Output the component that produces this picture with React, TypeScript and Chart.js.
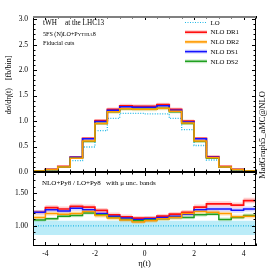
import React, { useEffect, useRef } from "react";
import { Chart, registerables } from "chart.js";
Chart.register(...registerables);

const FONT = "'Liberation Serif', 'DejaVu Serif', serif";

// bin edges in eta(t)
const BIN_EDGES = [-4.5, -4, -3.5, -3, -2.5, -2, -1.5, -1, -0.5, 0, 0.5, 1, 1.5, 2, 2.5, 3, 3.5, 4, 4.5];

// upper panel: dsigma/deta [fb/bin]
const LO = [0.017, 0.04, 0.09, 0.225, 0.49, 0.81, 1.05, 1.15, 1.15, 1.14, 1.14, 1.05, 0.83, 0.52, 0.235, 0.09, 0.04, 0.016];
const NLO_DR1 = [0.02, 0.05, 0.11, 0.29, 0.66, 1.01, 1.23, 1.30, 1.29, 1.29, 1.32, 1.23, 1.0, 0.66, 0.30, 0.11, 0.05, 0.02];
const NLO_DR2 = [0.02, 0.05, 0.10, 0.27, 0.61, 0.95, 1.18, 1.24, 1.23, 1.23, 1.25, 1.19, 0.96, 0.61, 0.28, 0.10, 0.05, 0.02];
const NLO_DS1 = [0.02, 0.05, 0.10, 0.29, 0.65, 0.99, 1.21, 1.28, 1.27, 1.27, 1.30, 1.21, 0.98, 0.65, 0.29, 0.10, 0.05, 0.02];
const NLO_DS2 = [0.02, 0.045, 0.10, 0.27, 0.60, 0.95, 1.18, 1.24, 1.23, 1.23, 1.25, 1.18, 0.95, 0.60, 0.27, 0.10, 0.045, 0.02];

// lower panel: NLO+Py8 / LO+Py8
const RATIO_DR1 = [1.21, 1.28, 1.26, 1.30, 1.29, 1.24, 1.17, 1.14, 1.12, 1.12, 1.15, 1.18, 1.21, 1.29, 1.34, 1.34, 1.32, 1.39];
const RATIO_DS1 = [1.21, 1.25, 1.23, 1.27, 1.25, 1.19, 1.15, 1.12, 1.10, 1.11, 1.13, 1.15, 1.18, 1.25, 1.26, 1.26, 1.24, 1.26];
const RATIO_DR2 = [1.13, 1.19, 1.18, 1.19, 1.22, 1.16, 1.12, 1.09, 1.06, 1.08, 1.11, 1.13, 1.19, 1.22, 1.21, 1.19, 1.14, 1.15];
const RATIO_DS2 = [1.09, 1.11, 1.15, 1.16, 1.20, 1.17, 1.13, 1.10, 1.08, 1.09, 1.11, 1.13, 1.13, 1.17, 1.18, 1.10, 1.13, 1.16];
const RATIO_LO = [1, 1, 1, 1, 1, 1, 1, 1, 1, 1, 1, 1, 1, 1, 1, 1, 1, 1];
const RATIO_LO_UP = [1.08, 1.08, 1.08, 1.08, 1.08, 1.08, 1.08, 1.08, 1.08, 1.08, 1.08, 1.08, 1.08, 1.08, 1.08, 1.08, 1.08, 1.08];
const RATIO_LO_DN = [0.86, 0.86, 0.86, 0.86, 0.86, 0.86, 0.86, 0.86, 0.86, 0.86, 0.86, 0.86, 0.86, 0.86, 0.86, 0.86, 0.86, 0.86];

// relative scale uncertainties (band half widths)
const UNC_DR1 = 0.03;
const UNC_DR2 = 0.03;
const UNC_DS1 = 0.03;
const UNC_DS2 = 0.025;

const TOP_Y_TICKS = [0, 0.5, 1.0, 1.5, 2.0, 2.5, 3.0];
const RATIO_Y_TICKS = [1.0, 1.5];
const X_TICKS = [-4, -2, 0, 2, 4];

const LEGEND = ["LO", "NLO DR1", "NLO DR2", "NLO DS1", "NLO DS2"];
const COL = {
  lo: "#22b8e6",
  dr1: "#ff1010",
  dr2: "#ff9a00",
  ds1: "#1414ff",
  ds2: "#20a020",
};
const BAND = {
  lo: "rgba(60,200,235,0.35)",
  dr1: "rgba(255,40,40,0.22)",
  dr2: "rgba(255,160,0,0.22)",
  ds1: "rgba(40,40,255,0.18)",
  ds2: "rgba(40,170,40,0.18)",
};

const steps = (vals: number[]) =>
  BIN_EDGES.map((x, i) => ({ x, y: vals[Math.min(i, vals.length - 1)] }));

function lineSet(vals: number[], color: string, order: number, dash?: number[], width = 1.5) {
  return {
    data: steps(vals),
    borderColor: color,
    borderWidth: width,
    borderDash: dash || [],
    pointRadius: 0,
    fill: false,
    stepped: "before" as const,
    order,
  };
}
function bandSets(lo: number[], hi: number[], color: string, order: number) {
  return [
    { data: steps(lo), borderColor: "transparent", borderWidth: 0, pointRadius: 0, fill: false, stepped: "before" as const, order },
    { data: steps(hi), borderColor: "transparent", borderWidth: 0, pointRadius: 0, fill: "-1", backgroundColor: color, stepped: "before" as const, order },
  ];
}

const frameTicks = {
  id: "frameTicks",
  afterDraw(chart: any, _args: any, opts: any) {
    const { ctx, chartArea: a, scales } = chart;
    const xs = scales.x, ys = scales.y;
    ctx.save();
    ctx.strokeStyle = "#000";
    ctx.lineWidth = 1;
    const tick = (x1: number, y1: number, x2: number, y2: number) => {
      ctx.beginPath(); ctx.moveTo(x1, y1); ctx.lineTo(x2, y2); ctx.stroke();
    };
    for (let v = -4.5; v <= 4.5001; v += 0.5) {
      const major = Math.abs(v - Math.round(v / 2) * 2) < 1e-6;
      const L = major ? 4 : 2.5;
      const px = Math.round(xs.getPixelForValue(v)) + 0.5;
      tick(px, a.bottom, px, a.bottom - L);
      tick(px, a.top, px, a.top + L);
    }
    for (let v = opts.yStart; v <= ys.max + 1e-6; v += opts.yMinor) {
      if (v < ys.min - 1e-6) continue;
      const major = Math.abs(v / opts.yMajor - Math.round(v / opts.yMajor)) < 1e-6;
      const L = major ? 4 : 2.5;
      const py = Math.round(ys.getPixelForValue(v)) + 0.5;
      tick(a.left, py, a.left + L, py);
      tick(a.right, py, a.right - L, py);
    }
    ctx.beginPath();
    ctx.moveTo(a.left + 0.5, a.top); ctx.lineTo(a.left + 0.5, a.bottom);
    ctx.moveTo(a.right - 0.5, a.top); ctx.lineTo(a.right - 0.5, a.bottom);
    ctx.stroke();
    ctx.lineWidth = opts.topW;
    ctx.strokeStyle = opts.topC;
    ctx.beginPath(); ctx.moveTo(a.left, a.top + opts.topW / 2); ctx.lineTo(a.right, a.top + opts.topW / 2); ctx.stroke();
    ctx.lineWidth = opts.botW;
    ctx.strokeStyle = opts.botC;
    ctx.beginPath(); ctx.moveTo(a.left, a.bottom - opts.botW / 2); ctx.lineTo(a.right, a.bottom - opts.botW / 2); ctx.stroke();
    ctx.restore();
  },
};

const topText = {
  id: "topText",
  afterDraw(chart: any) {
    const ctx = chart.ctx;
    ctx.save();
    ctx.fillStyle = "#000";
    ctx.textAlign = "left";
    ctx.textBaseline = "alphabetic";
    ctx.font = `7.2px ${FONT}`;
    ctx.fillText("tWH", 43, 25);
    ctx.fillText("at the LHC13", 65, 25);
    let x = 43;
    const parts: [string, number][] = [["5FS (N)LO+P", 6.1], ["YTHIA", 4.8], ["8", 6.1]];
    for (const [t, s] of parts) {
      ctx.font = `${s}px ${FONT}`;
      ctx.fillText(t, x, 35.5);
      x += ctx.measureText(t).width;
    }
    ctx.font = `6.1px ${FONT}`;
    ctx.fillText("Fiducial cuts", 43, 45);
    const cols = [COL.lo, COL.dr1, COL.dr2, COL.ds1, COL.ds2];
    const bands = [null, BAND.dr1, BAND.dr2, BAND.ds1, BAND.ds2];
    ctx.font = `6.8px ${FONT}`;
    ctx.textBaseline = "middle";
    LEGEND.forEach((lab, i) => {
      const y = 22.5 + i * 9.7;
      if (bands[i]) {
        ctx.fillStyle = bands[i];
        ctx.fillRect(185, y - 2, 22, 4);
      }
      ctx.strokeStyle = cols[i];
      ctx.lineWidth = i === 0 ? 1.2 : 1.6;
      ctx.setLineDash(i === 0 ? [1, 1.5] : []);
      ctx.beginPath(); ctx.moveTo(185, y); ctx.lineTo(207, y); ctx.stroke();
      ctx.setLineDash([]);
      ctx.fillStyle = "#000";
      ctx.fillText(lab, 210.5, y + 0.5);
    });
    ctx.translate(8.5, 85);
    ctx.rotate(-Math.PI / 2);
    ctx.textAlign = "center";
    ctx.font = `8px ${FONT}`;
    ctx.fillText("d\u03c3/d\u03b7(t)    [fb/bin]", 0, 0);
    ctx.restore();
    ctx.save();
    ctx.translate(262.5, 135);
    ctx.rotate(-Math.PI / 2);
    ctx.textAlign = "center";
    ctx.textBaseline = "middle";
    ctx.fillStyle = "#000";
    ctx.font = `8.5px ${FONT}`;
    ctx.fillText("MadGraph5_aMC@NLO", 0, 0);
    ctx.restore();
  },
};

const botText = {
  id: "botText",
  afterDraw(chart: any) {
    const ctx = chart.ctx;
    ctx.save();
    ctx.fillStyle = "#000";
    ctx.textAlign = "left";
    ctx.textBaseline = "middle";
    ctx.font = `7px ${FONT}`;
    ctx.fillText("NLO+Py8 / LO+Py8   with \u03bc unc. bands", 42, 183.5);
    ctx.textAlign = "center";
    ctx.font = `8.5px ${FONT}`;
    ctx.fillText("\u03b7(t)", 144.5, 263.5);
    ctx.restore();
  },
};

const mul = (vals: number[], f: number) => vals.map((v) => v * f);
const add = (vals: number[], d: number[], s: number) => vals.map((v, i) => v + s * d[i]);

export default function App() {
  const topRef = useRef<HTMLCanvasElement>(null);
  const botRef = useRef<HTMLCanvasElement>(null);

  useEffect(() => {
    const tickFont = { family: FONT, size: 7.5 };
    const top = new Chart(topRef.current!, {
      type: "line",
      data: {
        datasets: [
          lineSet(NLO_DR2, COL.dr2, 1),
          lineSet(NLO_DS2, COL.ds2, 2),
          lineSet(NLO_DS1, COL.ds1, 3),
          lineSet(NLO_DR1, COL.dr1, 4, undefined, 1.7),
          lineSet(LO, COL.lo, 5, [1, 1.5], 1.3),
          ...bandSets(mul(NLO_DR1, 1 - UNC_DR1), mul(NLO_DR1, 1 + UNC_DR1), BAND.dr1, 10),
          ...bandSets(mul(NLO_DS1, 1 - UNC_DS1), mul(NLO_DS1, 1 + UNC_DS1), BAND.ds1, 11),
          ...bandSets(mul(NLO_DR2, 1 - UNC_DR2), mul(NLO_DR2, 1 + UNC_DR2), BAND.dr2, 12),
          ...bandSets(mul(NLO_DS2, 1 - UNC_DS2), mul(NLO_DS2, 1 + UNC_DS2), BAND.ds2, 13),
        ] as any,
      },
      options: {
        responsive: false,
        animation: false,
        devicePixelRatio: 1,
        layout: { padding: { top: 16, bottom: 98, left: 0, right: 14 } },
        plugins: {
          legend: { display: false },
          tooltip: { enabled: false },
          frameTicks: { yStart: 0, yMinor: 0.1, yMajor: 0.5, topW: 2, topC: "#808080", botW: 1, botC: "#000" },
        } as any,
        scales: {
          x: { type: "linear", min: -4.5, max: 4.5, display: false },
          y: {
            min: 0,
            max: 3.06,
            grid: { display: false, drawTicks: false },
            border: { display: false },
            afterBuildTicks: (s: any) => { s.ticks = TOP_Y_TICKS.map((value) => ({ value })); },
            afterFit: (s: any) => { s.width = 33; },
            ticks: { font: tickFont, color: "#000", padding: 5, callback: (v: any) => Number(v).toFixed(1) },
          },
        },
      },
      plugins: [frameTicks, topText],
    });

    const ratioBand = (vals: number[], u: number) => vals.map((v) => v * u);
    const bot = new Chart(botRef.current!, {
      type: "line",
      data: {
        datasets: [
          lineSet(RATIO_DR2, COL.dr2, 1),
          lineSet(RATIO_DS2, COL.ds2, 2),
          lineSet(RATIO_DS1, COL.ds1, 3),
          lineSet(RATIO_DR1, COL.dr1, 4, undefined, 1.7),
          lineSet(RATIO_LO, COL.lo, 5, [1, 1.5], 1.3),
          ...bandSets(add(RATIO_DR1, ratioBand(RATIO_DR1, UNC_DR1), -1), add(RATIO_DR1, ratioBand(RATIO_DR1, UNC_DR1), 1), BAND.dr1, 10),
          ...bandSets(add(RATIO_DS1, ratioBand(RATIO_DS1, UNC_DS1), -1), add(RATIO_DS1, ratioBand(RATIO_DS1, UNC_DS1), 1), BAND.ds1, 11),
          ...bandSets(add(RATIO_DR2, ratioBand(RATIO_DR2, UNC_DR2), -1), add(RATIO_DR2, ratioBand(RATIO_DR2, UNC_DR2), 1), BAND.dr2, 12),
          ...bandSets(add(RATIO_DS2, ratioBand(RATIO_DS2, UNC_DS2), -1), add(RATIO_DS2, ratioBand(RATIO_DS2, UNC_DS2), 1), BAND.ds2, 13),
          ...bandSets(RATIO_LO_DN, RATIO_LO_UP, BAND.lo, 20),
        ] as any,
      },
      options: {
        responsive: false,
        animation: false,
        devicePixelRatio: 1,
        layout: { padding: { top: 172, bottom: 0, left: 0, right: 14 } },
        plugins: {
          legend: { display: false },
          tooltip: { enabled: false },
          frameTicks: { yStart: 0.7, yMinor: 0.1, yMajor: 0.5, topW: 1, topC: "#000", botW: 1, botC: "#000" },
        } as any,
        scales: {
          x: {
            type: "linear",
            min: -4.5,
            max: 4.5,
            grid: { display: false, drawTicks: false },
            border: { display: false },
            afterBuildTicks: (s: any) => { s.ticks = X_TICKS.map((value) => ({ value })); },
            afterFit: (s: any) => { s.height = 24; },
            ticks: { font: tickFont, color: "#000", padding: 4, maxRotation: 0, callback: (v: any) => String(v) },
          },
          y: {
            min: 0.69,
            max: 1.83,
            grid: { display: false, drawTicks: false },
            border: { display: false },
            afterBuildTicks: (s: any) => { s.ticks = RATIO_Y_TICKS.map((value) => ({ value })); },
            afterFit: (s: any) => { s.width = 33; },
            ticks: { font: tickFont, color: "#000", padding: 5, callback: (v: any) => Number(v).toFixed(2) },
          },
        },
      },
      plugins: [frameTicks, botText],
    });
    return () => { top.destroy(); bot.destroy(); };
  }, []);

  const cs: React.CSSProperties = { position: "absolute", left: 0, top: 0, width: 270, height: 270 };
  return (
    <div style={{ position: "absolute", left: 0, top: 0, width: 270, height: 270, background: "#fff" }}>
      <canvas ref={topRef} width={270} height={270} style={cs} />
      <canvas ref={botRef} width={270} height={270} style={cs} />
    </div>
  );
}
